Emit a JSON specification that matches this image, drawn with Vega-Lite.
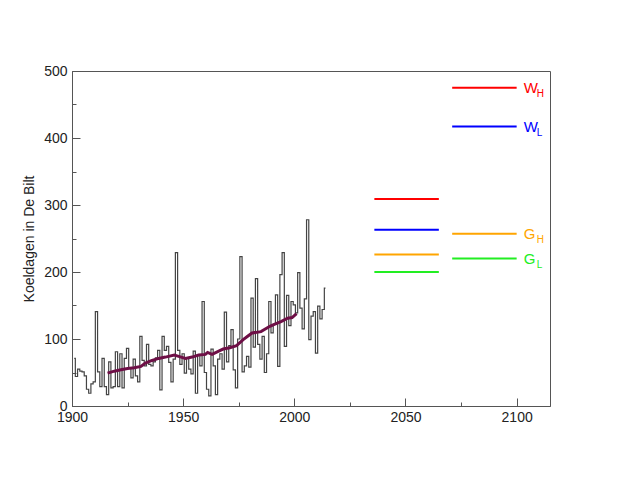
{
  "$schema": "https://vega.github.io/schema/vega-lite/v6.json",
  "width": 478,
  "height": 335,
  "autosize": "none",
  "padding": {"left": 72, "top": 71, "right": 69, "bottom": 73},
  "background": "white",
  "config": {
    "view": {"stroke": "#555", "strokeWidth": 1},
    "font": "Liberation Sans",
    "axis": {
      "domainColor": "#555",
      "tickColor": "#555",
      "labelColor": "#222",
      "labelFontSize": 14,
      "labelFont": "Liberation Sans",
      "labelFlush": false,
      "labelOverlap": false,
      "titleFont": "Liberation Sans",
      "titleFontWeight": "normal",
      "titleFontSize": 14,
      "titleColor": "#222",
      "grid": false
    }
  },
  "datasets": {
    "obs": [
      {"year": 1901, "value": 71}, {"year": 1902, "value": 44}, {"year": 1903, "value": 55}, {"year": 1904, "value": 52},
      {"year": 1905, "value": 51}, {"year": 1906, "value": 45}, {"year": 1907, "value": 25}, {"year": 1908, "value": 19},
      {"year": 1909, "value": 33}, {"year": 1910, "value": 36}, {"year": 1911, "value": 141}, {"year": 1912, "value": 51},
      {"year": 1913, "value": 29}, {"year": 1914, "value": 71}, {"year": 1915, "value": 29}, {"year": 1916, "value": 17},
      {"year": 1917, "value": 66}, {"year": 1918, "value": 27}, {"year": 1919, "value": 29}, {"year": 1920, "value": 81},
      {"year": 1921, "value": 29}, {"year": 1922, "value": 78}, {"year": 1923, "value": 27}, {"year": 1924, "value": 71},
      {"year": 1925, "value": 86}, {"year": 1926, "value": 57}, {"year": 1927, "value": 42}, {"year": 1928, "value": 70},
      {"year": 1929, "value": 45}, {"year": 1930, "value": 36}, {"year": 1931, "value": 104}, {"year": 1932, "value": 68},
      {"year": 1933, "value": 60}, {"year": 1934, "value": 92}, {"year": 1935, "value": 62}, {"year": 1936, "value": 60},
      {"year": 1937, "value": 66}, {"year": 1938, "value": 72}, {"year": 1939, "value": 83}, {"year": 1940, "value": 24},
      {"year": 1941, "value": 104}, {"year": 1942, "value": 83}, {"year": 1943, "value": 89}, {"year": 1944, "value": 65},
      {"year": 1945, "value": 36}, {"year": 1946, "value": 70}, {"year": 1947, "value": 229}, {"year": 1948, "value": 83},
      {"year": 1949, "value": 62}, {"year": 1950, "value": 78}, {"year": 1951, "value": 49}, {"year": 1952, "value": 72},
      {"year": 1953, "value": 55}, {"year": 1954, "value": 48}, {"year": 1955, "value": 82}, {"year": 1956, "value": 19},
      {"year": 1957, "value": 76}, {"year": 1958, "value": 60}, {"year": 1959, "value": 156}, {"year": 1960, "value": 50},
      {"year": 1961, "value": 25}, {"year": 1962, "value": 15}, {"year": 1963, "value": 85}, {"year": 1964, "value": 60},
      {"year": 1965, "value": 17}, {"year": 1966, "value": 70}, {"year": 1967, "value": 78}, {"year": 1968, "value": 55},
      {"year": 1969, "value": 140}, {"year": 1970, "value": 66}, {"year": 1971, "value": 90}, {"year": 1972, "value": 114},
      {"year": 1973, "value": 54}, {"year": 1974, "value": 27}, {"year": 1975, "value": 100}, {"year": 1976, "value": 223},
      {"year": 1977, "value": 51}, {"year": 1978, "value": 60}, {"year": 1979, "value": 74}, {"year": 1980, "value": 58},
      {"year": 1981, "value": 161}, {"year": 1982, "value": 88}, {"year": 1983, "value": 190}, {"year": 1984, "value": 92},
      {"year": 1985, "value": 70}, {"year": 1986, "value": 104}, {"year": 1987, "value": 50}, {"year": 1988, "value": 78},
      {"year": 1989, "value": 156}, {"year": 1990, "value": 109}, {"year": 1991, "value": 122}, {"year": 1992, "value": 166},
      {"year": 1993, "value": 59}, {"year": 1994, "value": 196}, {"year": 1995, "value": 229}, {"year": 1996, "value": 89},
      {"year": 1997, "value": 165}, {"year": 1998, "value": 120}, {"year": 1999, "value": 156}, {"year": 2000, "value": 151},
      {"year": 2001, "value": 139}, {"year": 2002, "value": 199}, {"year": 2003, "value": 146}, {"year": 2004, "value": 115},
      {"year": 2005, "value": 160}, {"year": 2006, "value": 278}, {"year": 2007, "value": 99}, {"year": 2008, "value": 134},
      {"year": 2009, "value": 141}, {"year": 2010, "value": 79}, {"year": 2011, "value": 149}, {"year": 2012, "value": 130},
      {"year": 2013, "value": 144}, {"year": 2014, "value": 176}
    ],
    "smooth": [
      {"year": 1916, "value": 49}, {"year": 1919, "value": 52}, {"year": 1922, "value": 54}, {"year": 1925, "value": 56},
      {"year": 1928, "value": 57}, {"year": 1931, "value": 59}, {"year": 1933, "value": 64}, {"year": 1936, "value": 68},
      {"year": 1939, "value": 71}, {"year": 1942, "value": 73}, {"year": 1946, "value": 76}, {"year": 1948, "value": 74},
      {"year": 1951, "value": 71}, {"year": 1954, "value": 73}, {"year": 1957, "value": 76}, {"year": 1960, "value": 77},
      {"year": 1961, "value": 80}, {"year": 1963, "value": 77}, {"year": 1966, "value": 82}, {"year": 1968, "value": 85},
      {"year": 1971, "value": 87}, {"year": 1974, "value": 90}, {"year": 1977, "value": 99}, {"year": 1979, "value": 104},
      {"year": 1981, "value": 109}, {"year": 1985, "value": 111}, {"year": 1989, "value": 119}, {"year": 1991, "value": 122},
      {"year": 1994, "value": 126}, {"year": 1997, "value": 131}, {"year": 1999, "value": 132}, {"year": 2001, "value": 138}
    ],
    "scen": [
      {"name": "WH", "letter": "W", "sub": "H", "start": 2036, "end": 2065, "value": 309},
      {"name": "WL", "letter": "W", "sub": "L", "start": 2036, "end": 2065, "value": 263},
      {"name": "GH", "letter": "G", "sub": "H", "start": 2036, "end": 2065, "value": 226},
      {"name": "GL", "letter": "G", "sub": "L", "start": 2036, "end": 2065, "value": 200},
      {"name": "WH", "letter": "W", "sub": "H", "start": 2071, "end": 2100, "value": 475, "label": true},
      {"name": "WL", "letter": "W", "sub": "L", "start": 2071, "end": 2100, "value": 417, "label": true},
      {"name": "GH", "letter": "G", "sub": "H", "start": 2071, "end": 2100, "value": 257, "label": true},
      {"name": "GL", "letter": "G", "sub": "L", "start": 2071, "end": 2100, "value": 220, "label": true}
    ]
  },
  "encoding": {
    "x": {
      "field": "year",
      "type": "quantitative",
      "scale": {"domain": [1900, 2115], "nice": false, "zero": false},
      "axis": {
        "title": null,
        "values": [1900, 1925, 1950, 1975, 2000, 2025, 2050, 2075, 2100],
        "labelExpr": "datum.value % 50 === 0 ? datum.label : ''",
        "format": "d",
        "tickSize": {"condition": {"test": "datum.value % 50 === 0", "value": -8}, "value": -4},
        "labelPadding": 12
      }
    },
    "y": {
      "field": "value",
      "type": "quantitative",
      "scale": {"domain": [0, 500], "nice": false},
      "axis": {
        "title": "Koeldagen in De Bilt",
        "values": [0, 50, 100, 150, 200, 250, 300, 350, 400, 450, 500],
        "labelExpr": "datum.value % 100 === 0 ? datum.label : ''",
        "tickSize": {"condition": {"test": "datum.value % 100 === 0", "value": -8}, "value": -4},
        "labelPadding": 13,
        "titlePadding": 7
      }
    }
  },
  "layer": [
    {
      "data": {"name": "obs"},
      "mark": {"type": "line", "interpolate": "step", "stroke": "#444", "strokeWidth": 1.2}
    },
    {
      "data": {"name": "smooth"},
      "mark": {"type": "line", "stroke": "#6e0f46", "strokeWidth": 3}
    },
    {
      "data": {"name": "scen"},
      "mark": {"type": "rule", "strokeWidth": 2},
      "encoding": {
        "x": {"field": "start", "type": "quantitative"},
        "x2": {"field": "end"},
        "color": {
          "field": "name",
          "type": "nominal",
          "scale": {"domain": ["WH", "WL", "GH", "GL"], "range": ["#ff0000", "#0000ff", "#ffa500", "#22ee22"]},
          "legend": null
        }
      }
    },
    {
      "data": {"name": "scen"},
      "transform": [{"filter": "datum.label"}],
      "mark": {"type": "text", "align": "left", "baseline": "middle", "dx": 7, "fontSize": 15},
      "encoding": {
        "x": {"field": "end", "type": "quantitative"},
        "text": {"field": "letter"},
        "color": {"field": "name", "type": "nominal", "legend": null}
      }
    },
    {
      "data": {"name": "scen"},
      "transform": [{"filter": "datum.label"}],
      "mark": {"type": "text", "align": "left", "baseline": "middle", "dx": 20, "dy": 6, "fontSize": 10},
      "encoding": {
        "x": {"field": "end", "type": "quantitative"},
        "text": {"field": "sub"},
        "color": {"field": "name", "type": "nominal", "legend": null}
      }
    }
  ]
}
